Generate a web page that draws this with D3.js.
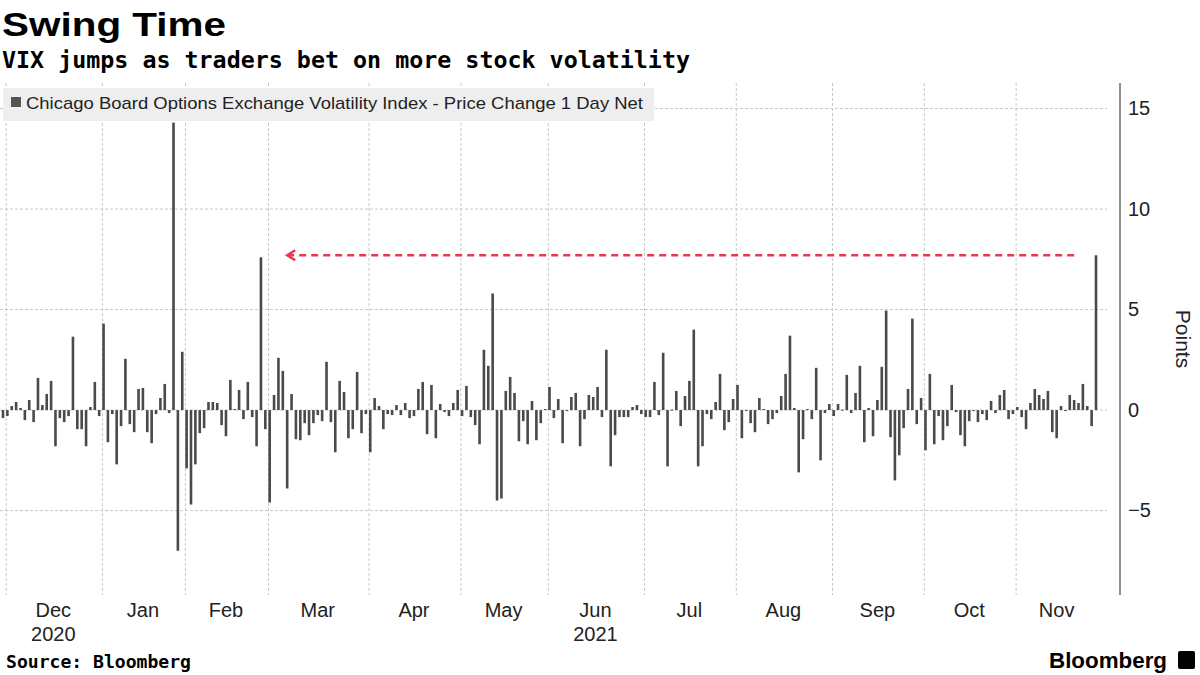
<!DOCTYPE html>
<html>
<head>
<meta charset="utf-8">
<script src="https://cdn.jsdelivr.net/npm/d3@7"></script>
<style>
  body { margin: 0; background: #fff; }
  svg { display: block; }
</style>
</head>
<body>
<div id="chart"></div>
<script>
// daily net change of the VIX, one value per trading day, Nov 30 2020 .. Nov 26 2021
var values = [
    // Nov 30 + Dec
    -0.4,-0.3,0.2,0.4,0.1,-0.5,0.5,-0.6,1.6,0.25,0.8,1.45,-1.8,-0.4,-0.6,-0.3,3.65,-0.95,-0.95,-1.8,0.15,1.4,-0.3,
    // Jan
    4.3,-1.6,-0.2,-2.7,-0.8,2.55,-0.7,-1.1,1.05,1.1,-1.1,-1.65,-0.2,0.6,1.3,-0.15,14.3,-7.0,2.9,
    // Feb
    -2.9,-4.7,-2.7,-1.15,-0.9,0.4,0.4,0.35,-0.75,-1.3,1.5,0.05,1.0,-0.45,1.4,-0.35,-1.8,7.6,-0.95,
    // Mar
    -4.6,0.75,2.6,1.95,-3.9,0.8,-1.45,-1.5,-0.65,-1.25,-0.65,-0.25,-0.55,2.4,-0.6,-2.1,1.45,0.9,-1.4,-0.95,1.9,-1.15,-0.2,
    // Apr
    -2.1,0.6,0.2,-0.95,-0.2,-0.25,0.25,-0.25,0.35,-0.4,-0.3,1.05,1.4,-1.2,1.25,-1.4,0.3,-0.1,-0.3,0.35,1.0,
    // May
    -0.3,1.2,-0.35,-0.75,-1.7,3.0,2.2,5.8,-4.5,-4.4,0.95,1.65,0.85,-1.55,-0.55,-1.7,0.45,-1.5,-0.65,0.05,
    // Jun
    1.15,-0.4,0.55,-1.65,-0.02,0.65,0.85,-1.8,-0.45,0.75,0.65,1.15,-0.35,3.0,-2.8,-1.25,-0.35,-0.35,-0.35,0.15,0.25,-0.2,
    // Jul
    -0.35,-0.35,1.4,-0.25,2.85,-2.8,0.02,0.95,-0.8,0.7,1.45,4.0,-2.8,-1.8,-0.2,-0.45,0.4,1.8,-1.0,-0.6,0.55,
    // Aug
    1.25,-1.4,-0.02,-0.65,-1.1,0.6,0.05,-0.7,-0.45,-0.15,0.7,1.8,3.7,0.1,-3.1,-1.45,0.05,-0.45,2.1,-2.5,-0.15,0.3,
    // Sep
    -0.3,0.3,0.02,1.75,-0.15,0.85,2.2,-1.6,0.1,-1.3,0.5,2.15,4.95,-1.35,-3.5,-2.25,-0.9,1.05,4.55,-0.7,0.6,
    // Oct
    -2.0,1.8,-1.7,-0.3,-1.5,-0.8,1.25,-0.1,-1.25,-1.8,-0.55,-0.05,-0.6,-0.2,-0.5,0.45,-0.15,0.75,1.0,-0.45,-0.2,
    // Nov
    0.15,-0.35,-0.95,0.35,1.05,0.75,0.55,0.95,-1.1,-1.4,0.2,-0.05,0.75,0.5,0.35,1.3,0.2,-0.8,7.7
];
var holidays = ["2020-12-25","2021-01-01","2021-01-18","2021-02-15","2021-04-02",
                "2021-05-31","2021-07-05","2021-09-06","2021-11-25"];
var yTicks = [-5, 0, 5, 10, 15];
var yearLabels = [{month: "2020-12", text: "2020"}, {month: "2021-06", text: "2021"}];
var refLevel = 7.7;

const WIDTH = 1200;
const HEIGHT = 675;

// trading days
var fmt = d3.timeFormat("%Y-%m-%d");
var fmtMonth = d3.timeFormat("%Y-%m");
var dates = d3.timeDay.range(new Date(2020, 10, 30), new Date(2021, 10, 27))
    .filter(function(d) { return d.getDay() % 6 != 0 && holidays.indexOf(fmt(d)) < 0; })
    .slice(0, values.length);

var svg = d3.select("#chart").append("svg")
    .attr("width", WIDTH).attr("height", HEIGHT)
    .style("font-family", "'Liberation Sans', Arial, sans-serif");

var x = d3.scaleLinear().domain([0, values.length - 1]).range([3, 1096]);
var y = d3.scaleLinear().domain([-9.2, 16.27]).range([595, 83]);
var plotRight = 1107;

// month groups (the lone Nov 30 bar goes with December)
var months = d3.groups(values.map(function(v, i) { return i; }),
    function(i) { return i == 0 ? fmtMonth(dates[1]) : fmtMonth(dates[i]); })
    .map(function(g) { return {key: g[0], start: g[1][0], end: g[1][g[1].length - 1],
                               first: g[1][0] == 0 ? 1 : g[1][0]}; });

var grid = svg.append("g");
grid.selectAll("line.h").data(yTicks).enter().append("line")
    .attr("x1", 0).attr("x2", plotRight)
    .attr("y1", function(d) { return y(d); }).attr("y2", function(d) { return y(d); })
    .attr("stroke", "#c8c8c8").attr("stroke-dasharray", "3,2");
grid.selectAll("line.v").data(months).enter().append("line")
    .attr("x1", function(d) { return x(d.first - 0.5) + 1; })
    .attr("x2", function(d) { return x(d.first - 0.5) + 1; })
    .attr("y1", 83).attr("y2", 595)
    .attr("stroke", "#c8c8c8").attr("stroke-dasharray", "3,2");

// bars
svg.append("g").selectAll("rect").data(values).enter().append("rect")
    .attr("x", function(d, i) { return x(i) - 1.3; })
    .attr("width", 2.6)
    .attr("y", function(d) { return y(Math.max(0, d)); })
    .attr("height", function(d) { return Math.max(1, Math.abs(y(d) - y(0))); })
    .attr("fill", "#4a4a4a");

// y axis on the right
var yAxis = svg.append("g")
    .attr("transform", "translate(" + 1120 + ",0)")
    .call(d3.axisRight(y).tickValues(yTicks).tickSize(0).tickPadding(8));
yAxis.select(".domain").attr("d", "M0,83V595").attr("stroke", "#222");
yAxis.selectAll("text").attr("font-size", 20).attr("fill", "#222")
    .attr("font-family", "'Liberation Sans', Arial, sans-serif");
svg.append("text")
    .attr("transform", "translate(1176,339) rotate(90)")
    .attr("text-anchor", "middle").attr("font-size", 21).attr("fill", "#222")
    .text("Points");

// month labels
function monthCenter(d) { return (x(d.first) + x(d.end)) / 2; }
svg.append("g").selectAll("text").data(months).enter().append("text")
    .attr("x", monthCenter)
    .attr("y", 617).attr("text-anchor", "middle")
    .attr("font-size", 20).attr("fill", "#222")
    .text(function(d) { return d3.timeFormat("%b")(dates[d.first]); });
svg.append("g").selectAll("text").data(yearLabels).enter().append("text")
    .attr("x", function(d) {
        return monthCenter(months.find(function(m) { return m.key == d.month; }));
    })
    .attr("y", 641).attr("text-anchor", "middle")
    .attr("font-size", 20).attr("fill", "#222")
    .text(function(d) { return d.text; });

// dashed reference arrow
var red = "#e8384f";
svg.append("line")
    .attr("x1", x(65)).attr("x2", x(245))
    .attr("y1", y(refLevel)).attr("y2", y(refLevel))
    .attr("stroke", red).attr("stroke-width", 2.5).attr("stroke-dasharray", "7,5");
svg.append("path")
    .attr("d", "M" + (x(65) + 8) + "," + (y(refLevel) - 5) + "L" + x(65) + "," + y(refLevel) +
          "L" + (x(65) + 8) + "," + (y(refLevel) + 5))
    .attr("fill", "none").attr("stroke", red).attr("stroke-width", 2.5);

// legend
svg.append("rect").attr("x", 3).attr("y", 88).attr("width", 651).attr("height", 33).attr("fill", "#eeeeee");
svg.append("rect").attr("x", 11).attr("y", 97).attr("width", 10).attr("height", 10).attr("fill", "#555");
svg.append("text").attr("x", 26).attr("y", 109).attr("font-size", 17).attr("fill", "#222")
    .attr("textLength", 617).attr("lengthAdjust", "spacingAndGlyphs")
    .text("Chicago Board Options Exchange Volatility Index - Price Change 1 Day Net");

// titles
svg.append("text").attr("x", 2).attr("y", 36).attr("font-size", 34).attr("font-weight", "bold")
    .attr("textLength", 224).attr("lengthAdjust", "spacingAndGlyphs")
    .attr("fill", "#000").text("Swing Time");
svg.append("text").attr("x", 2).attr("y", 68).attr("font-size", 23).attr("font-weight", "bold")
    .attr("font-family", "'DejaVu Sans Mono', monospace").attr("fill", "#000")
    .attr("textLength", 688).attr("lengthAdjust", "spacingAndGlyphs")
    .text("VIX jumps as traders bet on more stock volatility");
svg.append("text").attr("x", 6).attr("y", 668).attr("font-size", 17).attr("font-weight", "bold")
    .attr("font-family", "'DejaVu Sans Mono', monospace").attr("fill", "#000")
    .attr("textLength", 185).attr("lengthAdjust", "spacingAndGlyphs")
    .text("Source: Bloomberg");
svg.append("text").attr("x", 1167).attr("y", 668).attr("text-anchor", "end")
    .attr("font-size", 22).attr("font-weight", "bold").attr("fill", "#000")
    .attr("textLength", 118).attr("lengthAdjust", "spacingAndGlyphs")
    .text("Bloomberg");
svg.append("rect").attr("x", 1178).attr("y", 651).attr("width", 17).attr("height", 18)
    .attr("rx", 2).attr("fill", "#000");
</script>
</body>
</html>
